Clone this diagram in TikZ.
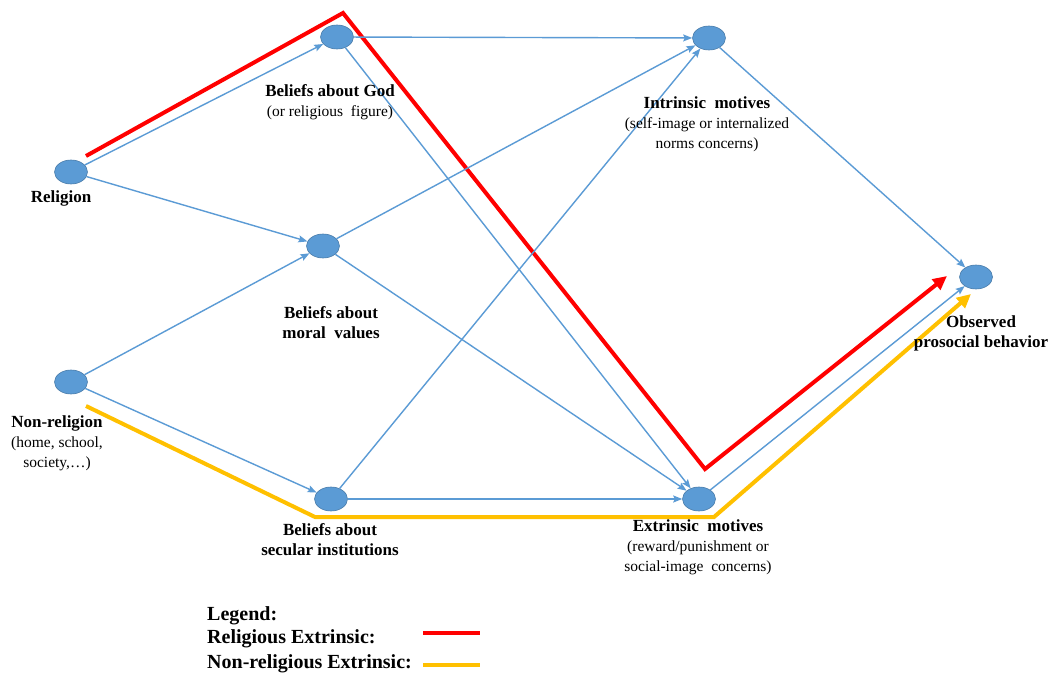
\documentclass[tikz,border=0pt]{standalone}
\usepackage{fontspec}
\setmainfont{Liberation Serif}
\usetikzlibrary{shapes.geometric,arrows.meta}
\definecolor{nodeblue}{HTML}{5B9BD5}
\definecolor{pathred}{HTML}{FF0000}
\definecolor{pathyellow}{HTML}{FFC000}
\newcommand{\bl}[1]{{\fontsize{17}{20}\selectfont\bfseries #1}}
\tikzset{
  vnode/.style={ellipse, minimum width=33pt, minimum height=24pt, inner sep=0pt,
    fill=nodeblue, draw=nodeblue!80!black, line width=0.6pt},
  link/.style={draw=nodeblue, line width=1.4pt, -{Stealth[length=9pt,width=7pt,inset=1.5pt]}},
  lbl/.style={align=center, anchor=base, inner sep=0pt, font=\fontsize{15.5}{20}\selectfont},
  redpath/.style={draw=pathred, line width=4pt, -{Triangle[length=14pt,width=13pt]}},
  yellowpath/.style={draw=pathyellow, line width=4pt, -{Triangle[length=14pt,width=13pt]}},
  legtext/.style={anchor=base west, inner sep=0pt, font=\fontsize{20}{24}\selectfont\bfseries},
}
\begin{document}
\begin{tikzpicture}[x=1pt,y=-1pt]
\useasboundingbox[fill=white] (0,0) rectangle (1058,674);

% nodes
\node[vnode] (rel) at (71,172) {};
\node[vnode] (god) at (337,37) {};
\node[vnode] (moral) at (323,246) {};
\node[vnode] (nonrel) at (71,382) {};
\node[vnode] (sec) at (331,499) {};
\node[vnode] (intr) at (709,38) {};
\node[vnode] (extr) at (699,499) {};
\node[vnode] (obs) at (976,277) {};

% highlighted paths
\coordinate (r1) at (86,156);
\coordinate (r2) at (343,13);
\coordinate (r3) at (705,469);
\coordinate (r4) at (947,276);
\coordinate (y1) at (86,406);
\coordinate (y2) at (315,517);
\coordinate (y3) at (714,517);
\coordinate (y4) at (971,294);
\draw[redpath] (r1) -- (r2) -- (r3) -- (r4);
\draw[yellowpath] (y1) -- (y2) -- (y3) -- (y4);

% blue links
\draw[link] (rel) -- (god);
\draw[link] (rel) -- (moral);
\draw[link] (nonrel) -- (moral);
\draw[link] (nonrel) -- (sec);
\draw[link] (god) -- (intr);
\draw[link] (god) -- (extr);
\draw[link] (moral) -- (intr);
\draw[link] (moral) -- (extr);
\draw[link] (sec) -- (intr);
\draw[link] (sec) -- (extr);
\draw[link] (intr) -- (obs);
\draw[link] (extr) -- (obs);

% labels (anchor = baseline of last line)
\node[lbl] (lrel) at (61,203) {\bl{Religion}};
\node[lbl] (lgod) at (330,117) {\bl{Beliefs about God}\\(or religious\ \ figure)};
\node[lbl] (lmoral) at (331,338) {\bl{Beliefs about}\\\bl{moral\ \ values}};
\node[lbl] (lnonrel) at (57,467) {\bl{Non-religion}\\(home, school,\\society,\dots)};
\node[lbl] (lsec) at (330,555) {\bl{Beliefs about}\\\bl{secular institutions}};
\node[lbl] (lintr) at (707,149) {\bl{Intrinsic\ \ motives}\\(self-image or internalized\\norms concerns)};
\node[lbl] (lextr) at (698,571) {\bl{Extrinsic\ \ motives}\\(reward/punishment or\\social-image\ \ concerns)};
\node[lbl] (lobs) at (981,347) {\bl{Observed}\\\bl{prosocial behavior}};

% legend
\node[legtext] (leg0) at (207,620) {Legend:};
\node[legtext] (leg1) at (207,643) {Religious Extrinsic:};
\node[legtext] (leg2) at (207,668) {Non-religious Extrinsic:};
\coordinate (lr1) at (423,633);
\coordinate (lr2) at (480,633);
\coordinate (ly1) at (423,665);
\coordinate (ly2) at (480,665);
\draw[draw=pathred, line width=4pt] (lr1) -- (lr2);
\draw[draw=pathyellow, line width=4pt] (ly1) -- (ly2);
\end{tikzpicture}
\end{document}
